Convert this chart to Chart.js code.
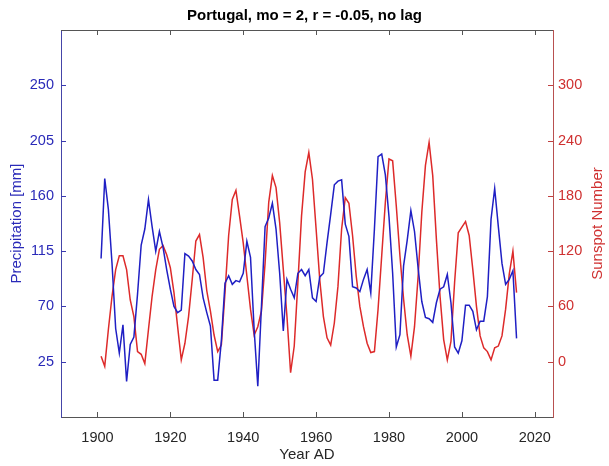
<!DOCTYPE html>
<html>
<head>
<meta charset="utf-8">
<script src="https://cdn.jsdelivr.net/npm/chart.js@4.4.1/dist/chart.umd.min.js"></script>
<style>
  html, body { margin: 0; padding: 0; background: #fff; }
  #wrap { width: 609px; height: 466px; }
</style>
</head>
<body>
<div id="wrap"><canvas id="chartPortugal"></canvas></div>
<script>
// February precipitation (Portugal) vs sunspot number, 1901-2015
const firstYear = 1901;

const precipitation = [
  109, 174, 149, 105, 52, 32, 55, 9, 39, 45,
  80, 120, 133, 157, 135, 115, 131, 118, 100, 84,
  70, 65, 67, 113, 111, 107, 100, 96, 77, 65,
  54, 10, 10, 42, 89, 95, 88, 91, 90, 97,
  123, 110, 51, 5, 70, 135, 142, 154, 133, 97,
  50, 92, 84, 77, 97, 100, 95, 100, 77, 74,
  94, 97, 122, 145, 169, 172, 173, 137, 127, 86,
  85, 82, 92, 100, 81, 133, 192, 194, 177, 143,
  97, 37, 47, 103, 124, 148, 131, 101, 74, 61,
  60, 57, 73, 84, 86, 96, 73, 37, 32, 42,
  71, 71, 66, 51, 58, 58, 78, 141, 166, 135,
  105, 88, 92, 99, 44
];

const sunspots = [
  6, -5, 35, 71, 100, 115, 115, 100, 67, 49,
  11, 8, -2, 35, 71, 100, 122, 126, 116, 102,
  75, 38, 2, 20, 49, 89, 131, 138, 113, 77,
  55, 29, 11, 18, 75, 137, 176, 186, 158, 129,
  93, 57, 29, 38, 55, 107, 173, 202, 189, 151,
  100, 49, -12, 17, 86, 158, 206, 227, 198, 144,
  89, 49, 26, 18, 42, 82, 144, 178, 172, 137,
  93, 60, 38, 20, 10, 11, 57, 115, 173, 220,
  218, 169, 115, 68, 29, 6, 38, 93, 162, 213,
  238, 202, 133, 71, 24, 2, 22, 86, 140, 146,
  152, 137, 100, 60, 28, 15, 11, 2, 15, 17,
  28, 57, 95, 120, 75
];

const years = precipitation.map((_, i) => firstYear + i);

const xTicks = [1900, 1920, 1940, 1960, 1980, 2000, 2020];
const precipTicks = [25, 70, 115, 160, 205, 250];
const sunspotTicks = [0, 60, 120, 180, 240, 300];

const BLUE = '#1f1fc4';
const RED = '#dd2a2a';
const GREY = '#262626';
const RED_TEXT = '#cf3030';
const FONT = "'Liberation Sans', Arial, Helvetica, sans-serif";

const setTicks = list => scale => { scale.ticks = list.map(v => ({ value: v })); };

// inward tick marks, top edge of the box and the right-hand axis title
const frame = {
  id: 'frame',
  afterDraw(chart) {
    const { ctx, chartArea: a, scales } = chart;
    const len = 5;
    ctx.save();
    ctx.lineWidth = 1;

    ctx.strokeStyle = '#555';
    ctx.beginPath();
    ctx.moveTo(a.left, Math.round(a.top) + 0.5);
    ctx.lineTo(a.right, Math.round(a.top) + 0.5);
    scales.x.ticks.forEach(t => {
      const px = Math.round(scales.x.getPixelForValue(t.value)) + 0.5;
      ctx.moveTo(px, a.bottom);
      ctx.lineTo(px, a.bottom - len);
      ctx.moveTo(px, a.top);
      ctx.lineTo(px, a.top + len);
    });
    ctx.stroke();

    ctx.strokeStyle = '#3a3ab0';
    ctx.beginPath();
    scales.yP.ticks.forEach(t => {
      const py = Math.round(scales.yP.getPixelForValue(t.value)) + 0.5;
      ctx.moveTo(a.left, py);
      ctx.lineTo(a.left + len, py);
    });
    ctx.stroke();

    ctx.strokeStyle = '#c04040';
    ctx.beginPath();
    scales.yS.ticks.forEach(t => {
      const py = Math.round(scales.yS.getPixelForValue(t.value)) + 0.5;
      ctx.moveTo(a.right, py);
      ctx.lineTo(a.right - len, py);
    });
    ctx.stroke();

    // reads bottom-to-top like the left one
    ctx.translate(chart.width - 11, (a.top + a.bottom) / 2);
    ctx.rotate(-Math.PI / 2);
    ctx.fillStyle = RED_TEXT;
    ctx.font = `15px ${FONT}`;
    ctx.textAlign = 'center';
    ctx.textBaseline = 'middle';
    ctx.fillText('Sunspot Number', 0, 0);
    ctx.restore();
  }
};

new Chart(document.getElementById('chartPortugal'), {
  type: 'line',
  data: {
    datasets: [{
      label: 'Precipitation [mm]',
      data: years.map((yr, i) => ({ x: yr, y: precipitation[i] })),
      yAxisID: 'yP',
      borderColor: BLUE,
      borderWidth: 1.5,
      pointRadius: 0,
      tension: 0,
      fill: false
    }, {
      label: 'Sunspot Number',
      data: years.map((yr, i) => ({ x: yr, y: sunspots[i] })),
      yAxisID: 'yS',
      borderColor: RED,
      borderWidth: 1.5,
      pointRadius: 0,
      tension: 0,
      fill: false
    }]
  },
  options: {
    responsive: true,
    maintainAspectRatio: false,
    animation: false,
    layout: { padding: 0 },
    plugins: {
      legend: { display: false },
      tooltip: { enabled: false },
      title: {
        display: true,
        text: 'Portugal, mo = 2, r = -0.05, no lag',
        color: '#000',
        font: { family: FONT, size: 15, weight: 'bold' },
        padding: { top: 7, bottom: 5 }
      }
    },
    scales: {
      x: {
        type: 'linear',
        min: 1890,
        max: 2025,
        afterBuildTicks: setTicks(xTicks),
        afterFit: s => { s.height = 49; },
        grid: { display: false, drawTicks: false },
        border: { display: true, color: '#555', width: 1 },
        ticks: {
          color: GREY, padding: 12, maxRotation: 0,
          font: { family: FONT, size: 14.5 },
          callback: v => String(v)
        },
        title: { display: true, text: 'Year AD', color: GREY, font: { family: FONT, size: 15 }, padding: { top: 0, bottom: 2 } }
      },
      yP: {
        type: 'linear',
        position: 'left',
        min: -20,
        max: 295,
        afterBuildTicks: setTicks(precipTicks),
        afterFit: s => { s.width = 61; },
        grid: { display: false, drawTicks: false },
        border: { display: true, color: '#4545a8', width: 1 },
        ticks: { color: '#2a2ab8', padding: 7, font: { family: FONT, size: 14.5 } },
        title: { display: true, text: 'Precipitation [mm]', color: '#2a2ab8', font: { family: FONT, size: 15 }, padding: { top: 8, bottom: 0 } }
      },
      yS: {
        type: 'linear',
        position: 'right',
        min: -60,
        max: 360,
        afterBuildTicks: setTicks(sunspotTicks),
        afterFit: s => { s.width = 56; },
        grid: { display: false, drawTicks: false },
        border: { display: true, color: '#b85050', width: 1 },
        ticks: { color: RED_TEXT, padding: 5, font: { family: FONT, size: 14.5 } },
        title: { display: false }
      }
    }
  },
  plugins: [frame]
});
</script>
</body>
</html>
